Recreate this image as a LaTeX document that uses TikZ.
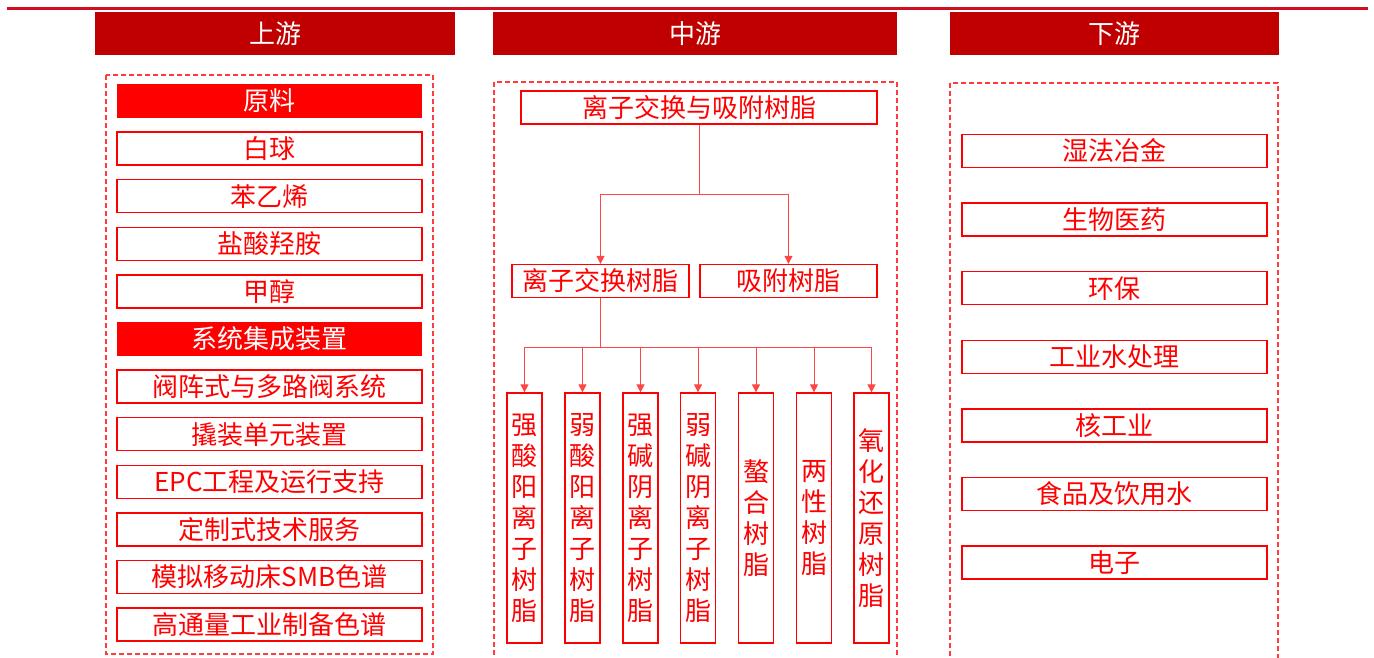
\documentclass[tikz,border=0pt]{standalone}
\usepackage{fontspec}
\newfontfamily\cjk{Noto Sans CJK SC}
\usetikzlibrary{arrows.meta}
\definecolor{hdrred}{RGB}{192,0,0}
\definecolor{topline}{RGB}{208,16,32}
\definecolor{pure}{RGB}{255,0,0}
\definecolor{zonered}{RGB}{255,60,60}
\definecolor{linkred}{RGB}{255,70,70}
\tikzset{
  hdr/.style={fill=hdrred, text=white, minimum height=43pt, inner sep=0pt, font=\cjk\fontsize{26}{30}\selectfont},
  itembox/.style={draw=pure, line width=1.3pt, text=pure, minimum height=33pt, inner sep=0pt, font=\cjk\fontsize{26}{30}\selectfont},
  fillbox/.style={fill=pure, text=white, minimum width=305pt, minimum height=34pt, inner sep=0pt, font=\cjk\fontsize{26}{30}\selectfont},
  vbox/.style={draw=pure, line width=1.3pt, text=pure, minimum width=35pt, minimum height=250pt, inner sep=0pt, align=center, font=\cjk\fontsize{26}{31}\selectfont},
  zone/.style={draw=zonered, line width=1.3pt, dash pattern=on 5pt off 3pt},
  link/.style={draw=linkred, line width=1pt},
  arr/.style={link, -{Triangle[length=8pt,width=8pt]}},
}
\begin{document}
\begin{tikzpicture}[x=1pt,y=-1pt]
\useasboundingbox (0,0) rectangle (1374,657);
% top line
\coordinate (tl) at (7,8);
\coordinate (tr) at (1368,8);
\draw[topline, line width=3pt] (tl) -- (tr);
% headers
\node[hdr, minimum width=360pt] (h1) at (275,33.5) {上游};
\node[hdr, minimum width=404pt] (h2) at (695,33.5) {中游};
\node[hdr, minimum width=329pt] (h3) at (1114.5,33.5) {下游};
% zones
\draw[zone] (106,75) rectangle (433,654);
\draw[zone] (494,82) rectangle (897,663);
\draw[zone] (950,83) rectangle (1278,663);
% left column
\node[fillbox] (l1) at (269.5,101) {原料};
\node[itembox, minimum width=305pt] (l2) at (269.5,148.6) {白球};
\node[itembox, minimum width=305pt] (l3) at (269.5,196.2) {苯乙烯};
\node[itembox, minimum width=305pt] (l4) at (269.5,243.8) {盐酸羟胺};
\node[itembox, minimum width=305pt] (l5) at (269.5,291.4) {甲醇};
\node[fillbox] (l6) at (269.5,339) {系统集成装置};
\node[itembox, minimum width=305pt] (l7) at (269.5,386.6) {阀阵式与多路阀系统};
\node[itembox, minimum width=305pt] (l8) at (269.5,434.2) {撬装单元装置};
\node[itembox, minimum width=305pt] (l9) at (269.5,481.8) {EPC工程及运行支持};
\node[itembox, minimum width=305pt] (l10) at (269.5,529.4) {定制式技术服务};
\node[itembox, minimum width=305pt] (l11) at (269.5,577) {模拟移动床SMB色谱};
\node[itembox, minimum width=305pt] (l12) at (269.5,624.6) {高通量工业制备色谱};
% right column
\node[itembox, minimum width=305pt] (r1) at (1114.5,151) {湿法冶金};
\node[itembox, minimum width=305pt] (r2) at (1114.5,219.6) {生物医药};
\node[itembox, minimum width=305pt] (r3) at (1114.5,288.2) {环保};
\node[itembox, minimum width=305pt] (r4) at (1114.5,356.8) {工业水处理};
\node[itembox, minimum width=305pt] (r5) at (1114.5,425.4) {核工业};
\node[itembox, minimum width=305pt] (r6) at (1114.5,494) {食品及饮用水};
\node[itembox, minimum width=305pt] (r7) at (1114.5,562.6) {电子};
% middle tree
\node[itembox, minimum width=356pt] (top) at (699,107.5) {离子交换与吸附树脂};
\node[itembox, minimum width=177pt] (ion) at (600.5,281) {离子交换树脂};
\node[itembox, minimum width=177pt] (ads) at (788.5,281) {吸附树脂};
\node[vbox] (v1) at (524.5,518) {强\\酸\\阳\\离\\子\\树\\脂};
\node[vbox] (v2) at (582.5,518) {弱\\酸\\阳\\离\\子\\树\\脂};
\node[vbox] (v3) at (640.5,518) {强\\碱\\阴\\离\\子\\树\\脂};
\node[vbox] (v4) at (698,518) {弱\\碱\\阴\\离\\子\\树\\脂};
\node[vbox] (v5) at (756,518) {螯\\合\\树\\脂};
\node[vbox] (v6) at (814,518) {两\\性\\树\\脂};
\node[vbox] (v7) at (871.5,518) {氧\\化\\还\\原\\树\\脂};
\draw[link] (top.south) -- ++(0,70) coordinate (j1);
\draw[arr] (j1) -| (ion.north);
\draw[arr] (j1) -| (ads.north);
\draw[link] (ion.south) -- ++(0,49) coordinate (j2);
\foreach \v in {v1,v2,v3,v4,v5,v6,v7}{
  \draw[arr] (j2) -| (\v.north);
}
\end{tikzpicture}
\end{document}
